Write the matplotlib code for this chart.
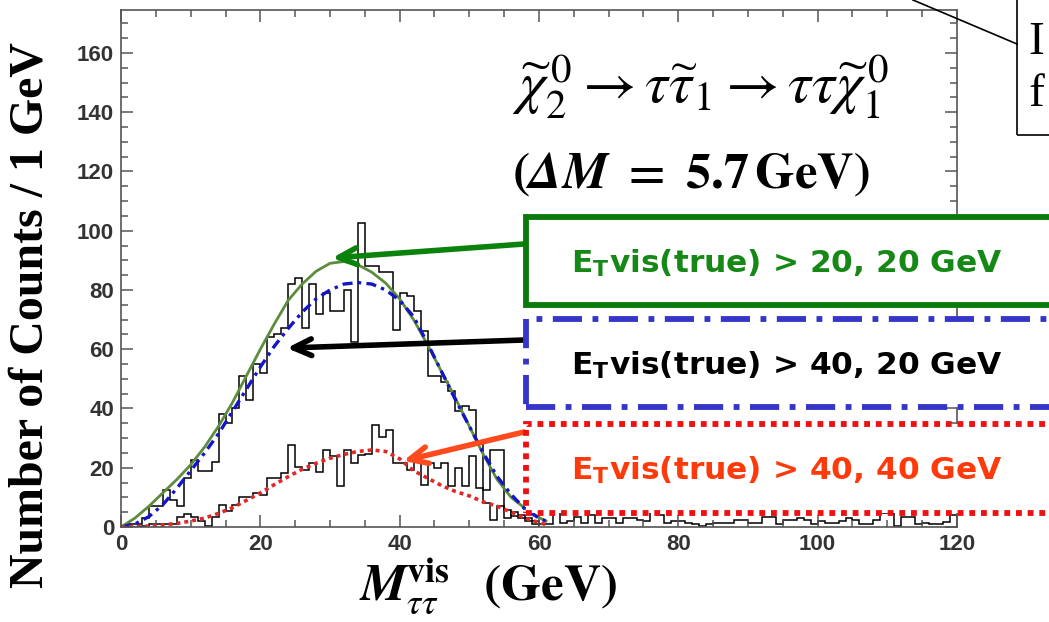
import matplotlib.pyplot as plt
from matplotlib.patches import Rectangle
from matplotlib.ticker import MultipleLocator

plt.rcParams['mathtext.fontset'] = 'stix'

W, H = 1049, 622

# counts per 1 GeV bin, 0-60 GeV, loose cut sample
upper_counts = [0, 1, 1, 3, 7, 7, 12.5, 9, 7, 16.5,
                22.5, 19, 19, 22, 38, 35, 40, 51, 43, 55,
                52, 64, 65, 67, 82, 84, 67, 82, 72, 79,
                73, 73, 80, 62.5, 102.6, 88, 88, 86, 86, 66.5,
                79, 78, 73, 66, 51, 51, 49, 46, 39, 41,
                39.5, 28, 12.5, 26, 26, 3, 5, 4, 3, 2]
# 60-120 GeV tail
tail_counts = [1, 1, 6, 1.5, 2, 3.5, 1.5, 4, 1.5, 3,
               3, 1.5, 3, 3, 2.5, 2, 5.7, 4, 1.5, 2,
               2, 1.5, 1, 0.5, 1, 1.5, 1.5, 1.5, 2.5, 2.5,
               1.5, 1.5, 3.4, 3.4, 1, 2.2, 2.2, 3, 2.5, 1,
               2, 1.5, 1.5, 2, 3, 2.5, 1, 1, 2.5, 4.6,
               4.6, 0.5, 3.4, 3.4, 1, 1.5, 1, 1, 1.8, 4]
# tight cut sample (40, 40 GeV)
lower_counts = [0, 0, 0, 0.5, 1, 1, 1, 1, 3.5, 4.5,
                3.5, 2, 0.5, 3.5, 7.5, 5.5, 7.5, 10, 10, 11.5,
                10.8, 16.4, 16.4, 18.1, 27.7, 20.4, 19.3, 21.5, 18.7, 26,
                23.8, 14, 26, 21.5, 24.3, 24.8, 34.4, 30.4, 32.7, 21.5,
                21.5, 19.3, 22, 14.3, 21.5, 20, 21.5, 13.7, 19.8, 14,
                23.8, 13, 8, 2.5, 7, 5.8, 3.6, 3, 2, 1]

# fitted shapes sampled every 2 GeV
fit_x = [0, 2, 4, 6, 8, 10, 12, 14, 16, 18, 20, 22, 24, 26, 28, 30,
         32, 34, 36, 38, 40, 42, 44, 46, 48, 50, 52, 54, 56, 58, 60, 61]
fit_2020 = [0, 3, 7, 11.5, 16, 21, 27, 34, 42, 51, 60, 68.5, 76.5, 82, 86.3, 89,
            89.6, 88.5, 86, 82.3, 77, 70, 61.5, 52.5, 43.5, 34, 24.5, 16, 10, 6.3, 3.2, 2]
fit_4020 = [0, 1, 3.5, 7.5, 13, 19, 25, 31.5, 39, 46.5, 54, 61, 67, 72.5, 77, 80,
            82, 82.5, 82, 80, 76.5, 71, 62, 52.5, 43, 34, 25, 17, 11, 6, 3, 2]
fit_4040 = [0, 0.1, 0.3, 0.7, 1.2, 2, 3, 4.6, 6.5, 9, 11.5, 14.3, 17, 19.5, 21.5, 23.2,
            24.5, 25.5, 26, 25.5, 23, 19, 16.5, 14, 12, 10.5, 8.5, 7, 5, 3, 1.5, 0.8]

edges_all = list(range(0, 121))
edges_low = list(range(0, 61))


def fpos(px, py):
    return px / W, 1 - py / H


fig = plt.figure(figsize=(W / 100, H / 100), dpi=100)
ax = fig.add_axes([121 / W, 1 - 527 / H, 836 / W, 517 / H])

ax.stairs(upper_counts + tail_counts, edges_all, color='black', lw=1.1)
ax.stairs(lower_counts, edges_low, color='black', lw=1.1)

ax.plot(fit_x, fit_2020, color='#5d8d3c', lw=2.0)
ax.plot(fit_x, fit_4020, color='#1515c8', lw=2.4, dashes=(3, 1.6, 1, 1.6))
ax.plot(fit_x, fit_4040, color='#e02828', lw=2.6, dashes=(1.1, 1.1))

ax.set_xlim(0, 120)
ax.set_ylim(0, 174.5)
ax.xaxis.set_major_locator(MultipleLocator(20))
ax.xaxis.set_minor_locator(MultipleLocator(5))
ax.yaxis.set_major_locator(MultipleLocator(20))
ax.yaxis.set_minor_locator(MultipleLocator(5))
ax.tick_params(which='both', direction='in', top=True, right=True,
               color='#555555', width=1.1, labelcolor='#333333')
ax.tick_params(which='major', length=8.5, pad=5)
ax.tick_params(which='minor', length=5)
for lab in ax.get_xticklabels() + ax.get_yticklabels():
    lab.set_fontfamily('Liberation Sans')
    lab.set_fontweight('bold')
    lab.set_fontsize(16)
for sp in ax.spines.values():
    sp.set_color('#555555')
    sp.set_linewidth(1.2)

# axis titles
fig.text(*fpos(31, 315), 'Number of Counts / 1 GeV', rotation=90,
         ha='center', va='center', family='Liberation Serif',
         fontweight='bold', fontsize=34.5)
fig.text(*fpos(488, 600), r'$\mathbfit{M}_{\tau\tau}^{\mathbf{vis}}$  $\mathbf{(GeV)}$',
         ha='center', va='baseline', fontsize=37)

# decay chain
fig.text(*fpos(512, 103),
         r'$\widetilde{\chi}_2^{\,0}\rightarrow\tau\widetilde{\tau}_1\rightarrow\tau\tau\widetilde{\chi}_1^{\,0}$',
         ha='left', va='baseline', fontsize=42)
fig.text(*fpos(512, 188), r'$\mathbf{(}\mathbfit{\Delta M}\mathbf{\ =\ 5.7\,GeV)}$',
         ha='left', va='baseline', fontsize=36.5)

# partly visible note box top right
fig.add_artist(Rectangle(fpos(1017, 135), 60 / W, 180 / H, transform=fig.transFigure,
                         fill=False, ec='black', lw=1.2))
fig.add_artist(plt.Line2D([913 / W, 1017 / W], [1.0, 1 - 44 / H],
                          transform=fig.transFigure, color='black', lw=1.2))
fig.text(*fpos(1028, 54), 'I', family='Liberation Serif', fontsize=34, va='baseline')
fig.text(*fpos(1028, 106), 'f', family='Liberation Serif', fontsize=34, va='baseline')

# selection boxes with arrows to the curves
boxes = [
    (217, 305, '#0b7a0b', '-', '#168816', '20, 20', 244, (30.3, 90.8), '#0b820b'),
    (319, 407, '#3535c8', (0, (5, 1.8, 1, 1.8)), 'black', '40, 20', 340, (23.8, 60.4), 'black'),
    (424, 513, '#ee1111', (0, (1, 1)), '#ff3a0a', '40, 40', 432, (40.5, 22.3), '#ff4a1e'),
]
for top, bot, ec, ls, tc, cut, ay, tip, acol in boxes:
    fig.add_artist(Rectangle(fpos(526, bot), 600 / W, (bot - top) / H,
                             transform=fig.transFigure, ec=ec, fc='white',
                             lw=4.2, ls=ls))
    fig.text(*fpos(787, (top + bot) / 2 + 2), r'E$_\mathregular{T}$vis(true) > ' + cut + ' GeV',
             ha='center', va='center', color=tc, family='DejaVu Sans',
             fontweight='bold', fontsize=22.5)
    ax.annotate('', xy=tip, xycoords='data', xytext=fpos(524, ay),
                textcoords='figure fraction',
                arrowprops=dict(arrowstyle='->,head_length=1.3,head_width=0.6',
                                color=acol, lw=4, shrinkA=0, shrinkB=0),
                annotation_clip=False)

fig.savefig('out.png', dpi=100)
